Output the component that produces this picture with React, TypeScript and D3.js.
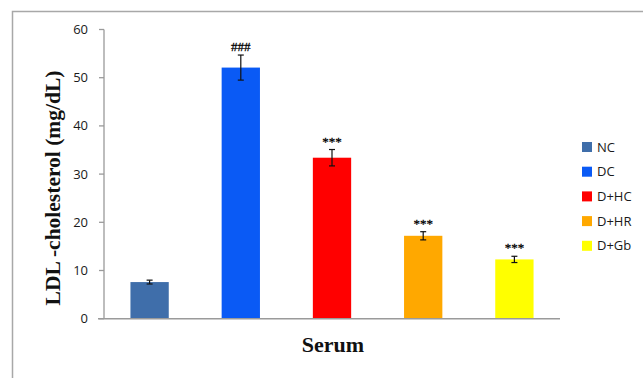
import React from "react";
import * as d3 from "d3";

const categories = ["NC", "DC", "D+HC", "D+HR", "D+Gb"];
const values = [7.6, 52.1, 33.4, 17.2, 12.3];
const errors = [0.4, 2.6, 1.7, 0.85, 0.65];
const marks = ["", "###", "***", "***", "***"];
const colors = ["#3F6EAA", "#0A5AF5", "#FF0000", "#FFA800", "#FFFF00"];
const yTicks = [0, 10, 20, 30, 40, 50, 60];

const W = 643;
const H = 378;
const left = 104;
const right = 560;
const top = 29.5;
const bottom = 318.7;

export default function App() {
  const x = d3.scaleBand<string>().domain(categories).range([left, right]).paddingInner(0.58).paddingOuter(0.29);
  const y = d3.scaleLinear().domain([0, 60]).range([bottom, top]);
  const sans = "'Open Sans', 'Liberation Sans', sans-serif";
  const serif = "'Liberation Serif', 'DejaVu Serif', serif";
  return (
    <svg width={W} height={H} style={{ position: "fixed", left: 0, top: 0, background: "#fff" }}>
      <rect x={0} y={0} width={W} height={H} fill="#fff" />
      {/* frame */}
      <path d={`M12.5,${H} V11.5 H${W + 2}`} fill="none" stroke="#A8A8A8" strokeWidth={1.5} />
      {/* y axis */}
      <line x1={left} x2={left} y1={top} y2={bottom} stroke="#9A9A9A" strokeWidth={1.3} />
      {yTicks.map((t) => (
        <g key={t}>
          <line x1={left - 5} x2={left} y1={y(t)} y2={y(t)} stroke="#9A9A9A" strokeWidth={1.3} />
          <text x={88} y={y(t)} dy="0.35em" textAnchor="end" fontFamily={sans} fontSize={13} fill="#1a1a1a">
            {t}
          </text>
        </g>
      ))}
      {/* bars */}
      {categories.map((c, i) => {
        const bx = x(c)!;
        const bw = x.bandwidth();
        const cx = bx + bw / 2;
        const eTop = y(values[i] + errors[i]);
        const eBot = y(values[i] - errors[i]);
        return (
          <g key={c}>
            <rect x={bx} y={y(values[i])} width={bw} height={bottom - y(values[i])} fill={colors[i]} />
            <line x1={cx} x2={cx} y1={eTop} y2={eBot} stroke="#111" strokeWidth={1.2} />
            <line x1={cx - 3} x2={cx + 3} y1={eTop} y2={eTop} stroke="#111" strokeWidth={1.2} />
            <line x1={cx - 3} x2={cx + 3} y1={eBot} y2={eBot} stroke="#111" strokeWidth={1.2} />
            {marks[i] && (
              <text
                x={cx}
                y={eTop - 4}
                textAnchor="middle"
                fontFamily={serif}
                fontSize={13}
                fill="#000"
                stroke="#000"
                strokeWidth={0.3}
              >
                {marks[i]}
              </text>
            )}
          </g>
        );
      })}
      {/* x axis */}
      <line x1={left - 6} x2={right} y1={bottom} y2={bottom} stroke="#9A9A9A" strokeWidth={1.5} />
      {/* axis titles */}
      <text
        transform={`translate(60,188) rotate(-90)`}
        textAnchor="middle"
        fontFamily={serif}
        fontWeight="bold"
        fontSize={21.5}
        fill="#111"
      >
        LDL -cholesterol (mg/dL)
      </text>
      <text x={333} y={352} textAnchor="middle" fontFamily={serif} fontWeight="bold" fontSize={22} fill="#111">
        Serum
      </text>
      {/* legend */}
      {categories.map((c, i) => {
        const ly = 147 + i * 24.7;
        return (
          <g key={"lg" + c}>
            <rect x={582} y={ly - 5} width={10} height={10} fill={colors[i]} />
            <text x={597} y={ly} dy="0.35em" fontFamily={sans} fontSize={13} fill="#1a1a1a">
              {c}
            </text>
          </g>
        );
      })}
    </svg>
  );
}
